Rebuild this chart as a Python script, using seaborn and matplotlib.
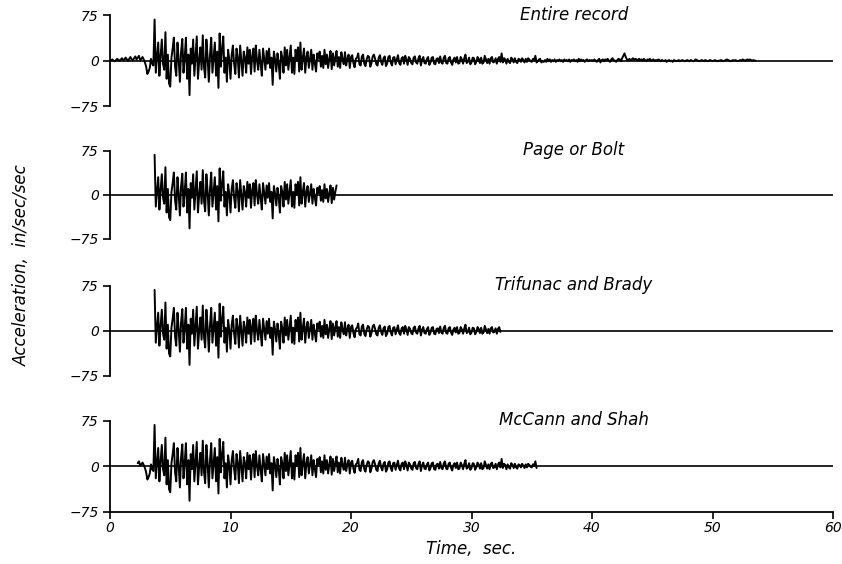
import numpy as np
import pandas as pd
import matplotlib
matplotlib.use("Agg")
import matplotlib.pyplot as plt
import seaborn as sns

# ---- data ----
dt = 0.1  # sampling interval of the digitised record, sec
acc = [
    0, 1, 2, 0, -1, 1, 3, 1, 0, 2,            # 0 s
    4, 1, 2, 5, 2, 0, 3, 6, 2, 1,             # 1 s
    4, 7, 2, 5, 8, 1, 3, 6, 2, -3,            # 2 s
    -10, -22, -18, -12, 3, -5, -8, 68, -20, 5,    # 3 s
    30, -25, 8, 35, -5, -15, 47, -30, 10, -38,    # 4 s
    -43, 5, 20, 38, -10, -25, 30, 2, -35, 15,     # 5 s
    36, -20, 5, 38, -30, 10, -57, 20, -5, 35,     # 6 s
    -25, 8, 40, -30, 0, 22, -15, 42, -10, -28,    # 7 s
    35, 5, -35, 10, 38, -20, 5, 30, -25, 15,      # 8 s
    -45, 45, -10, 20, 40, -20, 5, -35, 18, 2,     # 9 s
    -30, 10, 25, -5, -22, 20, 5, -28, 25, 0,      # 10 s
    -25, 15, 5, -20, 22, -5, 18, -22, 8, 20,      # 11 s
    -18, 25, 0, -15, 18, -5, -25, 20, 3, -15,     # 12 s
    16, -5, 20, -12, 5, -40, 15, 2, -18, 12,      # 13 s
    -5, -30, 15, 5, -20, 22, -8, 18, -15, 5,      # 14 s
    25, -20, 5, -22, 18, 0, 22, -18, 30, -15,     # 15 s
    5, 20, -20, 5, 15, -12, 3, 18, -15, 10,       # 16 s
    -5, -18, 12, 3, 15, -10, 8, -12, 18, -6,      # 17 s
    10, -12, 3, 16, -14, 12, -8, 5, 16, -10,      # 18 s
    6, -12, 14, 2, -6, 14, -8, 3, 10, -12,        # 19 s
    6, 9, -4, -11, 3, 5, 12, -6, -8, 7,           # 20 s
    10, -5, -9, 2, 8, 6, -10, -4, 7, 10,          # 21 s
    3, -6, -8, 5, 9, -2, -7, 4, 7, -9,            # 22 s
    -5, 6, 8, -3, -8, 5, 6, -6, 2, 9,             # 23 s
    -4, -7, 4, 6, -5, 8, 2, -7, 6, 3,             # 24 s
    -4, -6, 5, 7, -3, -5, 4, 8, -8, 2,            # 25 s
    6, -4, -5, 3, 6, -7, -3, 5, 6, -5,            # 26 s
    -6, 3, 4, -4, 7, -3, -5, 5, 8, -4,            # 27 s
    -5, 4, 6, -3, -7, 2, 5, -3, 6, -5,            # 28 s
    -4, 6, 2, -5, 4, 10, -4, -2, 5, -6,           # 29 s
    -3, 5, 4, -6, -2, 6, 3, -4, 5, -5,            # 30 s
    -3, 8, 2, -4, 3, -5, 4, 6, -3, -2,            # 31 s
    4, -5, 3, 6, -2, 12, -3, 4, 2, -5,            # 32 s
    3, -2, -4, 5, 2, -3, 4, -2, -4, 3,            # 33 s
    2, -2, 4, 1, -3, 3, -2, 4, 2, -1,             # 34 s
    -2, 3, 1, 8, -3, -1, 2, 3, -3, -1,            # 35 s
    -2, 1, -2, 3, -1, 2, -2, 1, -1, 2,            # 36 s
    -2, 1, 0, 2, -1, 1, -2, 2, 0, 1,              # 37 s
    -1, 2, -2, 1, 0, 2, -1, 1, -2, 3,             # 38 s
    -1, 2, 0, 1, -2, 1, 2, -1, 1, 0,              # 39 s
    1, -1, 2, 0, -2, 1, 3, -3, 1, 2,              # 40 s
    -1, 2, 1, 3, 0, -2, 2, 4, 1, 0,               # 41 s
    -2, 1, 3, 2, -1, 4, 8, 12, 6, 2,              # 42 s
    0, 3, 1, 2, 4, 1, 3, 2, 0, 3,                 # 43 s
    1, 2, 0, 3, 1, -1, 2, 1, 3, 0,                # 44 s
    1, 2, -1, 1, 0, 2, 1, -1, 1, 0,               # 45 s
    -1, 1, -2, 0, 1, -1, 0, -2, 1, 0,             # 46 s
    -1, 0, 1, -1, 0, 1, 0, -1, 0, 1,              # 47 s
    0, -1, 1, 0, -1, 0, 2, 1, 0, -1,              # 48 s
    0, 1, 0, -1, 1, 0, -1, 0, 1, 0,               # 49 s
    -1, 0, 1, 0, -1, 0, 0, 1, 0, -1,              # 50 s
    0, 1, 2, 1, 0, -1, 0, 1, 0, 1,                # 51 s
    0, -1, 0, 1, 0, 2, 1, 0, 1, 2,                # 52 s
    1, 2, 1, 0, 1, 0, 0,                          # 53 s
]

panel_titles = ["Entire record", "Page or Bolt", "Trifunac and Brady", "McCann and Shah"]
window_start = [0.0, 3.7, 3.7, 2.3]     # sec
window_end = [53.6, 18.8, 32.4, 35.4]   # sec

x_ticks = [0, 10, 20, 30, 40, 50, 60]
y_ticks = [-75, 0, 75]

time = np.arange(len(acc)) * dt
record = pd.DataFrame({"time": time, "acc": acc})

# ---- figure ----
sns.set_style("white")
plt.rcParams["font.family"] = ["DejaVu Sans"]
plt.rcParams["font.style"] = "italic"
plt.rcParams["text.color"] = "black"
plt.rcParams["xtick.color"] = "black"
plt.rcParams["ytick.color"] = "black"
plt.rcParams["axes.labelcolor"] = "black"

fig = plt.figure(figsize=(8.42, 5.64), dpi=100)
left, width = 110 / 842, (833 - 110) / 842
tops_px = [15.3, 150.7, 285.7, 420.7]
bots_px = [106.0, 239.0, 375.7, 511.7]

for i, title in enumerate(panel_titles):
    b = 1 - bots_px[i] / 564
    h = (bots_px[i] - tops_px[i]) / 564
    ax = fig.add_axes([left, b, width, h])
    seg = record[(record["time"] >= window_start[i] - 1e-9) & (record["time"] <= window_end[i] + 1e-9)]
    ax.axhline(0, color="black", lw=1.2, zorder=1)
    sns.lineplot(data=seg, x="time", y="acc", ax=ax, color="black", lw=1.4,
                 sort=False, estimator=None, zorder=2)
    ax.set_xlim(0, 60)
    ax.set_ylim(-75, 75)
    ax.set_yticks(y_ticks)
    ax.set_yticklabels(["\u221275", "0", "75"], fontsize=10, style="italic", color="black")
    ax.set_ylabel("")
    ax.set_xlabel("")
    for s in ["top", "right"]:
        ax.spines[s].set_visible(False)
    ax.spines["left"].set_color("black")
    ax.spines["left"].set_linewidth(1.3)
    ax.tick_params(axis="y", left=True, direction="out", length=5, width=1.2,
                   color="black", pad=3)
    ax.text(38.5, 76, title, ha="center", va="center", fontsize=12, style="italic",
            color="black")
    ax.patch.set_alpha(0)
    if i < 3:
        ax.spines["bottom"].set_visible(False)
        ax.set_xticks([])
    else:
        ax.spines["bottom"].set_color("black")
        ax.spines["bottom"].set_linewidth(1.3)
        ax.set_xticks(x_ticks)
        ax.set_xticklabels([str(v) for v in x_ticks], fontsize=10, style="italic",
                           color="black")
        ax.tick_params(axis="x", bottom=True, direction="out", length=5, width=1.2,
                       color="black", pad=2)
        ax.set_xlabel("Time,  sec.", fontsize=12, style="italic", labelpad=3,
                      color="black")

fig.text(22 / 842, 1 - 265 / 564, "Acceleration,  in/sec/sec", rotation=90,
         ha="center", va="center", fontsize=12, style="italic", color="black")

fig.savefig("out.png", dpi=100)
